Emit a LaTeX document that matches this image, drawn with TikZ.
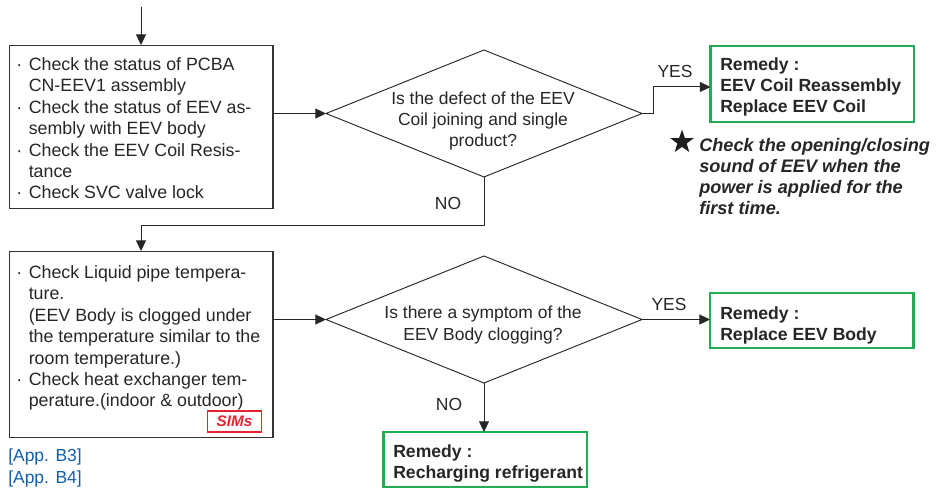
\documentclass[tikz,border=0pt]{standalone}
\usepackage{fontspec}
\setmainfont{Liberation Sans}
\usetikzlibrary{shapes.geometric,shapes.symbols,arrows.meta}
\definecolor{remedygreen}{RGB}{34,172,84}
\definecolor{applink}{RGB}{20,95,170}
\definecolor{simsred}{RGB}{230,35,50}
\newcommand{\bul}{·\hspace{0.37em}}
\newcommand{\ind}{\phantom{·}\hspace{0.37em}}
\tikzset{
    checkbox/.style={draw=black!80,line width=0.9pt,rectangle,inner sep=0pt,anchor=north west},
    question/.style={draw=black!85,line width=0.7pt,diamond,aspect=2.4,inner sep=0pt,outer sep=0pt},
    remedybox/.style={draw=remedygreen,line width=1.6pt,rectangle,inner sep=0pt,outer sep=0pt,anchor=north west},
    flow/.style={draw=black!85,line width=0.75pt,-{Triangle[length=8pt,width=7.5pt]}},
    bodytext/.style={inner sep=0pt,align=left,anchor=north west,font=\fontsize{13.1}{16.1}\selectfont},
    remedytext/.style={inner sep=0pt,align=left,anchor=north west,font=\fontsize{13.2}{16.1}\selectfont\bfseries},
    every node/.append style={text=black!85}
}
\begin{document}
\begin{tikzpicture}[x=0.75pt,y=-0.75pt]
    \useasboundingbox (0,0) rectangle (937,488);
    \node[checkbox,minimum width=197.6pt,minimum height=122.25pt] (A) at (9,45) {};
    \node[checkbox,minimum width=197.6pt,minimum height=139.5pt] (B) at (9,251) {};
    \node[question,minimum width=237pt,minimum height=95.25pt] (C) at (484,113.5) {};
    \node[question,minimum width=237pt,minimum height=95.25pt] (D) at (484,319.5) {};
    \node[remedybox,minimum width=152.6pt,minimum height=57pt] (E) at (710.5,46) {};
    \node[remedybox,minimum width=152.6pt,minimum height=41.25pt] (F) at (710,293) {};
    \node[remedybox,minimum width=152.6pt,minimum height=41.25pt] (G) at (383.5,432) {};
    % texts
    \node[bodytext,font=\fontsize{13.35}{16.1}\selectfont] (Atext) at (16,57) {%
        \bul Check the status of PCBA\\
        \ind CN-EEV1 assembly\\
        \bul Check the status of EEV as-\\
        \ind sembly with EEV body\\
        \bul Check the EEV Coil Resis-\\
        \ind tance\\
        \bul Check SVC valve lock};
    \node[bodytext,font=\fontsize{13.35}{16.1}\selectfont] (Btext) at (16,265) {%
        \bul Check Liquid pipe tempera-\\
        \ind ture.\\
        \ind (EEV Body is clogged under\\
        \ind the temperature similar to the\\
        \ind room temperature.)\\
        \bul Check heat exchanger tem-\\
        \ind perature.(indoor \& outdoor)};
    \node[bodytext,align=center,anchor=center] (Ctext) at (483,121) {Is the defect of the EEV\\Coil joining and single\\product?};
    \node[bodytext,align=center,anchor=center] (Dtext) at (483,325) {Is there a symptom of the\\EEV Body clogging?};
    \node[remedytext] (Etext) at (720,57) {Remedy :\\EEV Coil Reassembly\\Replace EEV Coil};
    \node[remedytext] (Ftext) at (720,306) {Remedy :\\Replace EEV Body};
    \node[remedytext] (Gtext) at (393,444) {Remedy :\\Recharging refrigerant};
    % star note
    \node[star,star points=5,star point ratio=2.5,fill=black!88,inner sep=0pt,minimum size=18.5pt] (S) at (682,142) {};
    \node[inner sep=0pt,align=left,anchor=north west,font=\fontsize{13.6}{15.8}\selectfont\bfseries\itshape] (Stext) at (699,138) {Check the opening/closing\\sound of EEV when the\\power is applied for the\\first time.};
    % sims tag
    \node[draw=simsred,line width=0.9pt,minimum width=41pt,minimum height=15.75pt,inner sep=0pt,text=simsred,font=\fontsize{11.5}{12}\selectfont\bfseries\itshape] (T) at (234.5,421.5) {SIMs};
    % links
    \node[bodytext,text=applink] (La) at (8,449) {[App. B3]};
    \node[bodytext,text=applink] (Lb) at (8,471) {[App. B4]};
    % edge labels
    \node[bodytext,anchor=center] (Ya) at (675,71) {YES};
    \node[bodytext,anchor=center] (Na) at (448,203) {NO};
    \node[bodytext,anchor=center] (Yb) at (669,304) {YES};
    \node[bodytext,anchor=center] (Nb) at (449,404) {NO};
    % connectors
    \coordinate (start) at (141,7);
    \coordinate (bendC) at (653,87);
    \path[flow] (start) -- (A.north -| start);
    \path[flow] (A.east |- C) -- (C.west);
    \path[flow] (C.east) -- (C.east -| bendC) -- (bendC) -- (bendC -| E.west);
    \path[flow] (C.south) -- ++(0,48) -| (B.north -| start);
    \path[flow] (B.east |- D) -- (D.west);
    \path[flow] (D.east) -- (D.east -| F.west);
    \path[flow] (D.south) -- (D.south |- G.north);
\end{tikzpicture}
\end{document}
